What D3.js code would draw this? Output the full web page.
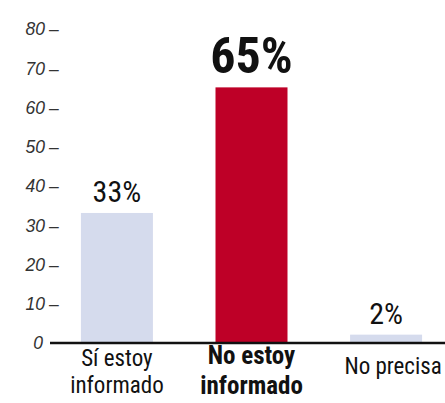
<!DOCTYPE html>
<html><head><meta charset="utf-8">
<script src="https://cdn.jsdelivr.net/npm/d3@7"></script>
<style>body{margin:0;background:#fff}svg{display:block}</style>
</head><body><svg id="c" width="445" height="403"></svg>
<script>
const categories = ["Sí estoy|informado", "No estoy|informado", "No precisa"];
const values = [33, 65, 2];
const valueLabels = ["33%", "65%", "2%"];
const highlight = [false, true, false];
const yTicks = [0, 10, 20, 30, 40, 50, 60, 70, 80];

const narrow = "'Liberation Sans Narrow', 'Roboto Condensed', 'Liberation Sans', sans-serif";
const svg = d3.select("#c");
const y = d3.scaleLinear().domain([0, 80]).range([342.5, 28.5]);
const x = d3.scaleBand().domain(categories).range([54, 449]).paddingInner(0.465).paddingOuter(0.2);

// bars
svg.selectAll("rect.bar").data(values).enter().append("rect")
  .attr("x", (d,i) => x(categories[i]))
  .attr("width", x.bandwidth())
  .attr("y", d => y(d))
  .attr("height", d => y(0) - y(d))
  .attr("fill", (d,i) => highlight[i] ? "#BE0027" : "#D5DBED");

// y axis (numbers) and dash ticks
const gy = svg.append("g").attr("transform", "translate(45,0)")
  .call(d3.axisLeft(y).tickValues(yTicks).tickSize(0).tickPadding(0).tickFormat(d3.format("d")));
gy.attr("font-size", null).attr("font-family", null);
gy.select(".domain").remove();
gy.selectAll(".tick text")
  .attr("font-family", "'Liberation Sans', Arimo, sans-serif")
  .attr("font-size", 17.5).attr("font-style", "italic").attr("fill", "#333")
  .attr("dy", "0.36em");
gy.selectAll(".tick").filter(d => d === 0).select("text").attr("x", -2);
gy.selectAll(".tick").filter(d => d !== 0).append("text")
  .attr("x", 4).attr("dy", "0.36em").attr("text-anchor", "start")
  .attr("font-family", "'Liberation Sans', Arimo, sans-serif")
  .attr("font-size", 17.5).attr("fill", "#333").text("\u2013");

// baseline
svg.append("line").attr("x1", 50).attr("x2", 445).attr("y1", y(0) + 0.5).attr("y2", y(0) + 0.5)
  .attr("stroke", "#111").attr("stroke-width", 2.5);

// value labels
svg.selectAll("text.val").data(values).enter().append("text")
  .attr("x", (d,i) => x(categories[i]) + x.bandwidth()/2)
  .attr("y", (d,i) => y(d) - (highlight[i] ? 14 : 11))
  .attr("text-anchor", "middle")
  .attr("font-family", narrow)
  .attr("font-size", (d,i) => highlight[i] ? 50 : 30)
  .attr("font-weight", (d,i) => highlight[i] ? "bold" : "normal")
  .attr("fill", "#111")
  .text((d,i) => valueLabels[i]);

// category labels
categories.forEach((c, i) => {
  const lines = c.split("|");
  const cx = x(c) + x.bandwidth()/2 + (i === 2 ? 7 : 0);
  const t = svg.append("text")
    .attr("y", i === 2 ? 374 : (highlight[i] ? 364 : 366))
    .attr("text-anchor", "middle")
    .attr("font-family", narrow)
    .attr("font-size", highlight[i] ? 25 : 23)
    .attr("font-weight", highlight[i] ? "bold" : "normal")
    .attr("fill", "#111");
  lines.forEach((l, j) => t.append("tspan").attr("x", cx).attr("dy", j === 0 ? 0 : (highlight[i] ? 30 : 27)).text(l));
});
</script></body></html>
